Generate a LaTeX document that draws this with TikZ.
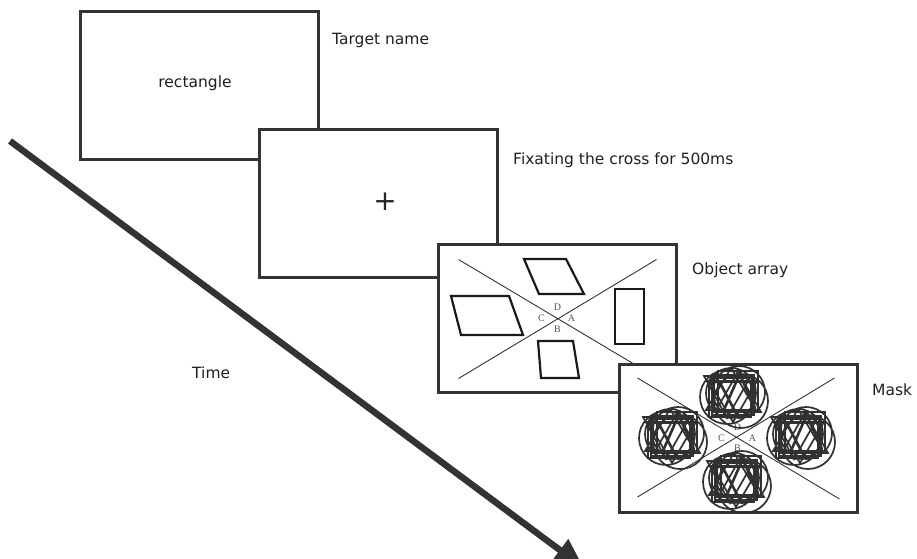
\documentclass[tikz,border=0pt]{standalone}
\usepackage{fontspec}
\setmainfont{DejaVu Sans}
\newfontfamily\letterfont{Liberation Serif}
\usetikzlibrary{arrows.meta}
\definecolor{ink}{HTML}{333333}
\definecolor{shapeink}{HTML}{1A1A1A}
\definecolor{lettergray}{HTML}{555555}
\tikzset{
  panel/.style={draw=ink, line width=3pt, fill=white, minimum width=238pt, minimum height=148pt, inner sep=0pt},
  caption/.style={anchor=west, inner sep=0pt, font=\fontsize{15.5}{17}\selectfont, text=black!88},
  shapeline/.style={draw=shapeink, line width=2.2pt, line join=miter},
  diag/.style={draw=ink, line width=0.9pt},
  maskline/.style={draw=shapeink!90, line width=1.7pt},
  letter/.style={inner sep=0pt, text=lettergray, font=\letterfont\fontsize{10}{11}\selectfont},
  timearrow/.style={draw=ink, fill=ink, line width=6.5pt, -{Triangle[length=30pt,width=26pt]}},
  % one overlapping cluster of circles, squares and triangles
  blob/.pic={
    \draw[maskline] (-6,2) circle (27) (6,-3) circle (26) (8,6) circle (27) (-2,-2) circle (25);
    \draw[maskline] (-21,-20) rectangle (21,20) (-15,-24) rectangle (25,16) (-24,-13) rectangle (18,22) (-19,-17) rectangle (19,17);
    \draw[maskline] (-2,-27) -- (23,15) -- (-27,15) -- cycle (5,-23) -- (28,17) -- (-18,17) -- cycle;
    \draw[maskline] (0,27) -- (24,-14) -- (-24,-14) -- cycle (-6,23) -- (18,-19) -- (-29,-19) -- cycle;
    \draw[maskline, line width=2.6pt] (6,-22) -- (22,13) (-10,17) -- (8,-24) (-14,-14) -- (4,20);
  }
}
\begin{document}
\begin{tikzpicture}[x=1pt, y=-1pt]
\useasboundingbox (0,0) rectangle (917,558);
\clip (0,0) rectangle (917,558);

% the four screens, each partly covering the one before
\node[panel] (p1) at (199,85) {};
\node[inner sep=0pt, font=\fontsize{15.5}{17}\selectfont, text=black!88] (word) at (195,83) {rectangle};

\node[panel] (p2) at (378,203) {};
\node[inner sep=0pt, font=\fontsize{28}{30}\selectfont, text=black!85] (cross) at (385,202) {+};

\node[panel] (p3) at (557.5,318.5) {};
\begin{scope}[shift={(p3.center)}]
  \draw[diag] (-99,-59) -- (99,59) (-99,60) -- (99,-59);
  \node[letter] (d3) at (0,-11) {D};
  \node[letter] (c3) at (-16,0) {C};
  \node[letter] (a3) at (14,0) {A};
  \node[letter] (b3) at (0,11) {B};
  % parallelograms and rectangle of the object array
  \draw[shapeline] (-33.5,-59.5) -- (8.5,-59.5) -- (26.5,-24.5) -- (-18.5,-24.5) -- cycle;
  \draw[shapeline] (-106.5,-22.5) -- (-48.5,-22.5) -- (-34.5,16.5) -- (-96.5,16.5) -- cycle;
  \draw[shapeline] (57.5,-29.5) rectangle (86.5,25.5);
  \draw[shapeline] (-19.5,22.5) -- (15.5,22.5) -- (21.5,59.5) -- (-16.5,59.5) -- cycle;
\end{scope}

\node[panel] (p4) at (738.5,438) {};
\begin{scope}[shift={(p4.center)}]
  \draw[diag] (-101,-60) -- (101,61) (-101,59) -- (96,-60);
  \node[letter] (d4) at (-1,-11) {D};
  \node[letter] (c4) at (-17,0) {C};
  \node[letter] (a4) at (14,0) {A};
  \node[letter] (b4) at (-1,10) {B};
  \pic at (-5.5,-43) {blob};
  \pic at (-66.5,-2) {blob};
  \pic at (61.5,-2) {blob};
  \pic at (-2.5,42) {blob};
\end{scope}

% captions
\node[caption] (t1) at (332,40) {Target name};
\node[caption] (t2) at (513,160) {Fixating the cross for 500ms};
\node[caption] (t3) at (692,270) {Object array};
\node[caption] (t4) at (872,390) {Mask};
\node[caption] (t5) at (192,373) {Time};

% time axis
\coordinate (tstart) at (10,141);
\coordinate (tend) at (584,568);
\draw[timearrow] (tstart) -- (tend);
\end{tikzpicture}
\end{document}
